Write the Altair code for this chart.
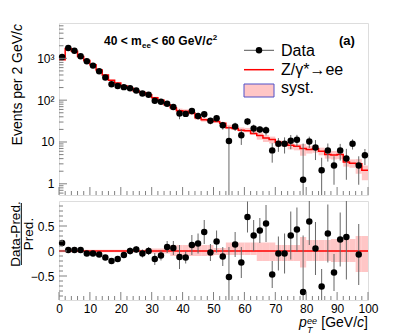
import altair as alt
import pandas as pd

# ---------------- data ----------------
centers = [1, 3, 5, 7, 9, 11, 13, 15, 17, 19, 21, 23, 25, 27, 29, 31, 33, 35, 37, 39,
           41, 43, 45, 47, 49, 51, 53, 55, 57, 59, 61, 63, 65, 67, 69, 71, 73, 75, 77, 79,
           81, 83, 85, 87, 89, 91, 93, 95, 97, 99]
data = [1070, 1770, 1510, 1120, 850, 670, 490, 350, 240, 218, 205, 192, 171, 145, 135, 97, 92, 82, 69, 48,
        47, 55, 42, 46, 32, 37, 25, 10.5, 23.6, 14.4, 31, 21, 20, 19, 6.3, 9.1, 9.1, 10.7, 11.3, 1.25,
        10.3, 7.4, 2.1, 6.3, 2.75, 6.3, 4.05, 9.1, 2.75, 4.8]
data_err = [28, 43, 37, 33, 27, 25, 21, 20, 15, 15, 13, 13, 12, 12, 11, 14, 10, 9.4, 9.2, 13,
            6.5, 9.8, 7.6, 8.2, 5.6, 6.8, 5.3, 13, 5.3, 5.9, 5.7, 5.0, 3.6, 4.6, 3.1, 3.3, 3.8, 4.0, 3.5, 7.9,
            3.1, 3.7, 2.1, 2.9, 1.8, 2.7, 2.8, 2.5, 1.8, 2.0]
pred = [930, 1730, 1480, 1100, 890, 700, 525, 400, 300, 258, 222, 192, 166, 152, 135, 115, 100, 78, 66, 56,
        54, 49, 38, 34, 33, 31, 28, 22, 21, 19, 18.5, 16, 14.2, 12.5, 11.5, 9.8, 9.5, 8.3, 7.9, 7.0,
        6.6, 6.9, 6.0, 5.0, 4.9, 5.0, 3.3, 3.1, 3.0, 2.1]
ratio = [0.16, 0.02, 0.02, 0.02, -0.05, -0.05, -0.07, -0.13, -0.2, -0.16, -0.08, 0.0, 0.03, -0.05, 0.0,
         -0.16, -0.09, 0.08, 0.06, -0.12, -0.13, 0.12, 0.15, 0.38, -0.03, 0.19, -0.11, -0.52, 0.13, -0.23,
         0.68, 0.31, 0.41, 0.55, -0.47, -0.05, -0.05, 0.31, 0.43, -0.82, 0.59, 0.05, -0.71, 0.35, -0.43,
         0.23, 0.28, None, -0.07, None]
ratio_err = [0.03, 0.025, 0.025, 0.03, 0.03, 0.035, 0.04, 0.05, 0.05, 0.06, 0.06, 0.07, 0.07, 0.08, 0.08,
             0.12, 0.1, 0.12, 0.14, 0.24, 0.12, 0.2, 0.2, 0.24, 0.17, 0.22, 0.19, 0.6, 0.25, 0.31,
             0.31, 0.31, 0.25, 0.37, 0.27, 0.34, 0.4, 0.48, 0.44, 1.13, 0.47, 0.53, 0.35, 0.58, 0.37,
             0.54, 0.85, None, 0.61, None]
syst_up = [0.025, 0.025, 0.025, 0.025, 0.025, 0.025, 0.025, 0.025, 0.025, 0.025, 0.025, 0.025, 0.025, 0.025,
           0.05, 0.05, 0.05, 0.05, 0.12, 0.12, 0.12, 0.12, 0.12, 0.12, 0.12, 0.06, 0.06,
           0.17, 0.17, 0.17, 0.17, 0.17, 0.17, 0.17, 0.17, 0.12, 0.12, 0.12, 0.12, 0.28,
           0.22, 0.22, 0.22, 0.22, 0.24, 0.24, 0.24, 0.24, 0.3, 0.3]
syst_down = [0.025, 0.025, 0.025, 0.025, 0.025, 0.025, 0.025, 0.025, 0.025, 0.025, 0.025, 0.025, 0.025, 0.025,
             0.05, 0.05, 0.05, 0.05, 0.10, 0.10, 0.10, 0.10, 0.10, 0.10, 0.10, 0.08, 0.08,
             0.08, 0.08, 0.08, 0.08, 0.08, 0.2, 0.2, 0.2, 0.2, 0.2, 0.2, 0.2, 0.33,
             0.2, 0.2, 0.2, 0.2, 0.22, 0.22, 0.22, 0.22, 0.42, 0.42]

x_major = [0, 10, 20, 30, 40, 50, 60, 70, 80, 90, 100]
x_minor = [2, 4, 6, 8, 12, 14, 16, 18, 22, 24, 26, 28, 32, 34, 36, 38, 42, 44, 46, 48,
           52, 54, 56, 58, 62, 64, 66, 68, 72, 74, 76, 78, 82, 84, 86, 88, 92, 94, 96, 98]
ytop_major = [1, 10, 100, 1000]
ytop_minor = [0.6, 0.7, 0.8, 0.9, 2, 3, 4, 5, 6, 7, 8, 9, 20, 30, 40, 50, 60, 70, 80, 90,
              200, 300, 400, 500, 600, 700, 800, 900, 2000, 3000, 4000, 5000, 6000]
ybot_major = [-0.5, 0, 0.5]
ybot_minor = [-0.9, -0.8, -0.7, -0.6, -0.4, -0.3, -0.2, -0.1, 0.1, 0.2, 0.3, 0.4, 0.6, 0.7, 0.8, 0.9]

# ---------------- styling ----------------
W, H1, H2 = 309, 172, 99
FONT = "Liberation Sans"
FRAME = "#808080"
PINK = "#ffc6c6"
RED = "#ff0000"
ERR = "#666666"

df = pd.DataFrame({"c": centers, "d": data, "e": data_err, "p": pred,
                   "r": ratio, "re": ratio_err, "su": syst_up, "sd": syst_down})
df["lo"] = df["c"] - 1
df["hi"] = df["c"] + 1
df["blo"] = df["p"] * (1 - df["sd"])
df["bhi"] = df["p"] * (1 + df["su"])
df["elo"] = (df["d"] - df["e"]).clip(lower=0.3)
df["ehi"] = df["d"] + df["e"]
df["rlo"] = -df["sd"]
df["rhi"] = df["su"]

dfr = df.dropna(subset=["r"]).copy()
dfr["relo"] = dfr["r"] - dfr["re"]
dfr["rehi"] = dfr["r"] + dfr["re"]

step = pd.DataFrame({"x": [c - 1 for c in centers] + [100], "y": pred + [pred[-1]]})

xs = alt.Scale(domain=[0, 100], nice=False, zero=False)
ys1 = alt.Scale(type="log", domain=[0.54, 7000], nice=False)
ys2 = alt.Scale(domain=[-0.98, 1.0], nice=False, zero=False)

ax_x_top = None
ax_x_bot = alt.Axis(values=x_major, ticks=False, domain=False, grid=False, title=None,
                    labelFont=FONT, labelFontSize=12, labelColor="black", labelPadding=3,
                    labelFlush=False, labelOverlap=False)
ax_y_top = alt.Axis(values=ytop_major, ticks=False, domain=False, grid=False, title=None,
                    labelFont=FONT, labelFontSize=12, labelColor="black", labelPadding=5,
                    labelOverlap=False, labelFlush=False,
                    labelExpr="datum.value == 1 ? '1' : datum.value == 10 ? '10' : datum.value == 100 ? '10\u00b2' : '10\u00b3'")
ax_y_bot = alt.Axis(values=ybot_major, ticks=False, domain=False, grid=False, title=None,
                    labelFont=FONT, labelFontSize=12, labelColor="black", labelPadding=5,
                    labelOverlap=False, labelFlush=False,
                    labelExpr="datum.value == 0 ? '0' : datum.value > 0 ? '0.5' : '\u22120.5'")


def X(f, ax):
    return alt.X(f, type="quantitative", scale=xs, axis=ax)


def one():
    return pd.DataFrame({"t": [""]})


def txt(s, x, y, size, align="left", baseline="alphabetic", angle=0, weight="normal", style="normal", color="black"):
    return alt.Chart(pd.DataFrame({"t": [s]})).mark_text(
        font=FONT, fontSize=size, align=align, baseline=baseline, angle=angle,
        fontWeight=weight, fontStyle=style, color=color
    ).encode(x=alt.value(x), y=alt.value(y), text="t:N")


def ticks(values, ax_x, ax_y, yscale, H, length, horizontal_axis):
    d = pd.DataFrame({"v": values})
    if horizontal_axis:
        return alt.Chart(d).mark_rule(color=FRAME, strokeWidth=1).encode(
            x=X("v", ax_x), y=alt.value(H), y2=alt.value(H - length))
    return alt.Chart(d).mark_rule(color=FRAME, strokeWidth=1).encode(
        y=alt.Y("v", type="quantitative", scale=yscale, axis=ax_y), x=alt.value(0), x2=alt.value(length))


def Y1(f):
    return alt.Y(f, type="quantitative", scale=ys1, axis=ax_y_top)


def Y2(f):
    return alt.Y(f, type="quantitative", scale=ys2, axis=ax_y_bot)


# ---------------- top panel ----------------
band1 = alt.Chart(df).mark_rect(color=PINK, opacity=1).encode(
    x=X("lo", ax_x_top), x2="hi", y=Y1("blo"), y2="bhi")
line1 = alt.Chart(step).mark_line(color=RED, strokeWidth=1.5, interpolate="step-after").encode(
    x=X("x", ax_x_top), y=Y1("y"))
err1 = alt.Chart(df).mark_rule(color=ERR, strokeWidth=1, clip=True).encode(
    x=X("c", ax_x_top), y=Y1("elo"), y2="ehi")
pts1 = alt.Chart(df).mark_circle(color="black", size=42, opacity=1).encode(
    x=X("c", ax_x_top), y=Y1("d"))

leg = [
    alt.Chart(one()).mark_rule(color="#555555", strokeWidth=1).encode(
        x=alt.value(185), x2=alt.value(215), y=alt.value(27.3)),
    alt.Chart(one()).mark_circle(color="black", size=42, opacity=1).encode(
        x=alt.value(200), y=alt.value(27.3)),
    alt.Chart(one()).mark_rule(color=RED, strokeWidth=1.5).encode(
        x=alt.value(185), x2=alt.value(215), y=alt.value(46.7)),
    alt.Chart(one()).mark_rect(fill=PINK, stroke="#5050c8", strokeWidth=1).encode(
        x=alt.value(185), x2=alt.value(215), y=alt.value(61), y2=alt.value(74)),
    txt("Data", 222, 32.8, 16),
    txt("Z/\u03b3*\u2192ee", 222, 52, 16),
    txt("syst.", 222, 69.5, 16),
]

title_parts = [
    txt("40 < m", 82.7, 21.5, 12, align="right", weight="bold"),
    txt("ee", 83, 24.5, 8, weight="bold"),
    txt("< 60 GeV/", 146.7, 21.5, 12, align="right", weight="bold"),
    txt("c", 147, 21.5, 12, weight="bold", style="italic"),
    txt("2", 153.8, 17, 8, weight="bold"),
    txt("(a)", 280, 22, 13, weight="bold"),
]

ylab1 = [
    txt("c", -37, 1, 14, align="right", angle=270, style="italic"),
    txt("Events per 2 GeV/", -37, 8, 14, align="right", angle=270),
]

top = alt.layer(
    band1, line1, err1, pts1,
    ticks(x_major, ax_x_top, ax_y_top, ys1, H1, 8, True),
    ticks(x_minor, ax_x_top, ax_y_top, ys1, H1, 4, True),
    ticks(ytop_major, ax_x_top, ax_y_top, ys1, H1, 8, False),
    ticks(ytop_minor, ax_x_top, ax_y_top, ys1, H1, 4.5, False),
    *leg, *title_parts, *ylab1
).properties(width=W, height=H1)

# ---------------- ratio panel ----------------
band2 = alt.Chart(df).mark_rect(color=PINK, opacity=1).encode(
    x=X("lo", ax_x_bot), x2="hi", y=Y2("rlo"), y2="rhi")
zero2 = alt.Chart(pd.DataFrame({"v": [0]})).mark_rule(color=RED, strokeWidth=1.5).encode(
    y=Y2("v"), x=alt.value(0), x2=alt.value(W))
err2 = alt.Chart(dfr).mark_rule(color=ERR, strokeWidth=1, clip=True).encode(
    x=X("c", ax_x_bot), y=Y2("relo"), y2="rehi")
pts2 = alt.Chart(dfr).mark_circle(color="black", size=42, opacity=1).encode(
    x=X("c", ax_x_bot), y=Y2("r"))

ylab2 = [
    txt("Data-Pred.", -39, 33, 13.5, align="center", angle=270),
    alt.Chart(one()).mark_rule(color="black", strokeWidth=1).encode(
        x=alt.value(-37.7), y=alt.value(2), y2=alt.value(64)),
    txt("Pred.", -26, 33, 13.5, align="center", angle=270),
]

xlab = [
    txt("]", 309, 126, 14, align="right"),
    txt("c", 305.1, 126, 14, align="right", style="italic"),
    txt("[GeV/", 298.1, 126, 14, align="right"),
    txt("p", 240, 126, 14, style="italic"),
    txt("ee", 248, 122.5, 9, style="italic"),
    txt("T", 248, 131.5, 9, style="italic"),
]

bot = alt.layer(
    band2, zero2, err2, pts2,
    ticks(x_major, ax_x_bot, ax_y_bot, ys2, H2, 8, True),
    ticks(x_minor, ax_x_bot, ax_y_bot, ys2, H2, 4, True),
    ticks(ybot_major, ax_x_bot, ax_y_bot, ys2, H2, 8, False),
    ticks(ybot_minor, ax_x_bot, ax_y_bot, ys2, H2, 4, False),
    *ylab2, *xlab
).properties(width=W, height=H2)

chart = alt.vconcat(top, bot, spacing=4).properties(
    padding={"left": 0, "top": 14, "right": 0, "bottom": 0}
).configure_view(stroke=FRAME, strokeWidth=1.5).configure(background="white")

chart.save("out.html", embed_options={"renderer": "svg", "actions": False})
